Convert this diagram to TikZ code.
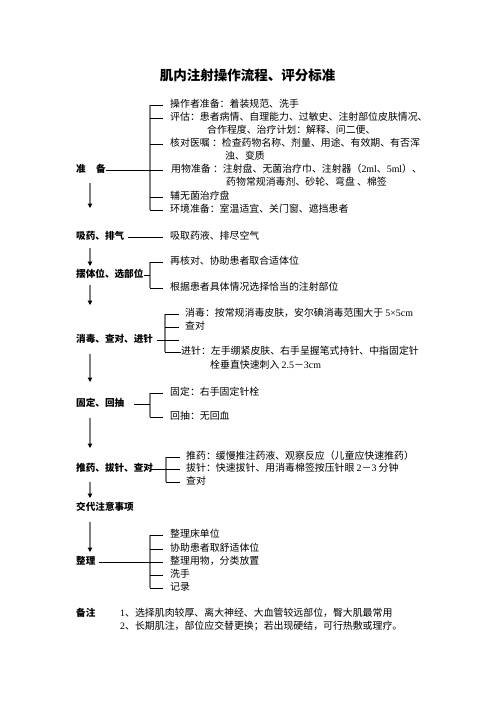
\documentclass[tikz,border=0pt]{standalone}
\usepackage{fontspec}
\setmainfont{Liberation Serif}
\newfontfamily\cjk{Noto Sans CJK SC}
\usetikzlibrary{arrows.meta,calc}
\newcommand{\lat}[1]{{\rmfamily #1}}
\tikzset{
  item/.style={anchor=west, inner sep=0pt, font=\cjk\fontsize{9.9}{12}\selectfont, text height=7.8pt, text depth=2.1pt},
  stage/.style={anchor=west, inner sep=0pt, font=\cjk\bfseries\fontsize{9.6}{12}\selectfont, text height=7.6pt, text depth=2pt},
  bar/.style={draw=gray, line width=1.8pt},
  branch/.style={draw=black, line width=0.7pt},
  flow/.style={draw=gray, line width=1.4pt, -{Triangle[color=black,length=4.5pt,width=4.5pt]}},
}
\begin{document}
\begin{tikzpicture}[x=1pt,y=-1pt]
  \useasboundingbox (0,0) rectangle (496,702);

  \node [inner sep=0pt, font=\cjk\bfseries\fontsize{13.5}{16}\selectfont] (title) at (247.5,75) {肌内注射操作流程、评分标准};

  % stages
  \node [stage] (zb) at (76,170) {准\hspace{10.4pt}备};
  \node [stage] (xy) at (76,237) {吸药、排气};
  \node [stage] (bt) at (76,275) {摆体位、选部位};
  \node [stage] (xd) at (76,340) {消毒、查对、进针};
  \node [stage] (gd) at (76,404) {固定、回抽};
  \node [stage] (tb) at (76,469) {推药、拔针、查对};
  \node [stage] (jd) at (76,508) {交代注意事项};
  \node [stage] (zl) at (76,562) {整理};
  \node [stage] (bz) at (76,614) {备注};

  \coordinate (ax) at (90,0);
  \foreach \from/\to/\s/\e in {zb/xy/8/24, xy/bt/6/4, bt/xd/5/30, xd/gd/9/17, gd/tb/9/16, tb/jd/8/5, jd/zl/9/5}
    \draw [flow] ($(\from.south -| ax)+(0,\s)$) -- ($(\to.north -| ax)+(0,-\e)$);

  % preparation
  \coordinate (b1) at (150,0);
  \coordinate (e1) at (163,0);
  \node [item] (t11) at (170,105) {操作者准备：着装规范、洗手};
  \node [item] (t12) at (170,118) {评估：患者病情、自理能力、过敏史、注射部位皮肤情况、};
  \node [item] (t12b) at (207,131) {合作程度、治疗计划：解释、问二便、};
  \node [item] (t13) at (170,144) {核对医嘱 ：检查药物名称、剂量、用途、有效期、有否浑};
  \node [item] (t13b) at (225,157) {浊、变质};
  \node [item] (t14) at (171,170) {用物准备 ：注射盘、无菌治疗巾、注射器（\lat{2ml}、\lat{5ml}）、};
  \node [item] (t14b) at (226,183) {药物常规消毒剂、砂轮、弯盘 、棉签};
  \node [item] (t15) at (170,197) {辅无菌治疗盘};
  \node [item] (t16) at (170,210) {环境准备：室温适宜、关门窗、遮挡患者};
  \draw [bar] (b1 |- t11) -- (b1 |- t16);
  \foreach \t in {t11,t12,t13,t15,t16}
    \draw [branch] (b1 |- \t) -- (e1 |- \t);
  \draw [branch] (zb.east) -- (e1 |- zb);

  % drawing up
  \node [item] (t20) at (170,237) {吸取药液、排尽空气};
  \draw [branch] ([xshift=4pt]xy.east) -- ([xshift=-7pt]t20.west);

  % position
  \coordinate (b2) at (150,0);
  \node [item] (t21) at (170,262) {再核对、协助患者取合适体位};
  \node [item] (t22) at (170,288) {根据患者具体情况选择恰当的注射部位};
  \draw [bar] (b2 |- t21) -- (b2 |- t22);
  \foreach \t in {t21,t22}
    \draw [branch] (b2 |- \t) -- (e1 |- \t);
  \draw [branch] (bt.east) -- (b2 |- bt);

  % disinfection
  \coordinate (b3) at (165,0);
  \coordinate (e3) at (179,0);
  \node [item] (t31) at (185,314) {消毒：按常规消毒皮肤，安尔碘消毒范围大于 \lat{5×5cm}};
  \node [item] (t32) at (185,327) {查对};
  \node [item] (t33) at (181,352) {进针：左手绷紧皮肤、右手呈握笔式持针、中指固定针};
  \node [item] (t33b) at (210,366) {栓垂直快速刺入 \lat{2.5}－\lat{3cm}};
  \draw [bar] (b3 |- t31) -- (b3 |- t33);
  \foreach \t in {t31,t32}
    \draw [branch] (b3 |- \t) -- (e3 |- \t);
  \draw [branch] (b3 |- t33) -- (t33.west);
  \draw [branch] ([xshift=4pt]xd.east) -- (e3 |- xd);

  % fix and draw back
  \coordinate (b4) at (150,0);
  \node [item] (t41) at (170,393) {固定：右手固定针栓};
  \node [item] (t42) at (170,417) {回抽：无回血};
  \draw [bar] (b4 |- t41) -- (b4 |- t42);
  \foreach \t in {t41,t42}
    \draw [branch] (b4 |- \t) -- (e1 |- \t);
  \draw [branch] ([xshift=10pt]gd.east) -- (b4 |- gd);

  % inject and withdraw
  \coordinate (b5) at (166,0);
  \coordinate (e5) at (180,0);
  \node [item] (t51) at (186,457) {推药：缓慢推注药液、观察反应（儿童应快速推药）};
  \node [item] (t52) at (186,469) {拔针：快速拔针、用消毒棉签按压针眼 \lat{2}－\lat{3} 分钟};
  \node [item] (t53) at (186,482) {查对};
  \draw [bar] (b5 |- t51) -- (b5 |- t53);
  \foreach \t in {t51,t53}
    \draw [branch] (b5 |- \t) -- (e5 |- \t);
  \draw [branch] ([xshift=-3pt]tb.east) -- (e5 |- tb);

  % tidy up
  \coordinate (b7) at (150,0);
  \node [item] (t71) at (170,535) {整理床单位};
  \node [item] (t72) at (170,549) {协助患者取舒适体位};
  \node [item] (t73) at (170,562) {整理用物，分类放置};
  \node [item] (t74) at (170,575) {洗手};
  \node [item] (t75) at (170,588) {记录};
  \draw [bar] (b7 |- t71) -- (b7 |- t75);
  \foreach \t in {t71,t72,t74,t75}
    \draw [branch] (b7 |- \t) -- (e1 |- \t);
  \draw [branch] ([xshift=3pt]zl.east) -- (e1 |- zl);

  % notes
  \node [item] (n1) at (120,614) {\lat{1}、选择肌肉较厚、离大神经、大血管较远部位，臀大肌最常用};
  \node [item] (n2) at (120,627) {\lat{2}、长期肌注，部位应交替更换；若出现硬结，可行热敷或理疗。};
\end{tikzpicture}
\end{document}
